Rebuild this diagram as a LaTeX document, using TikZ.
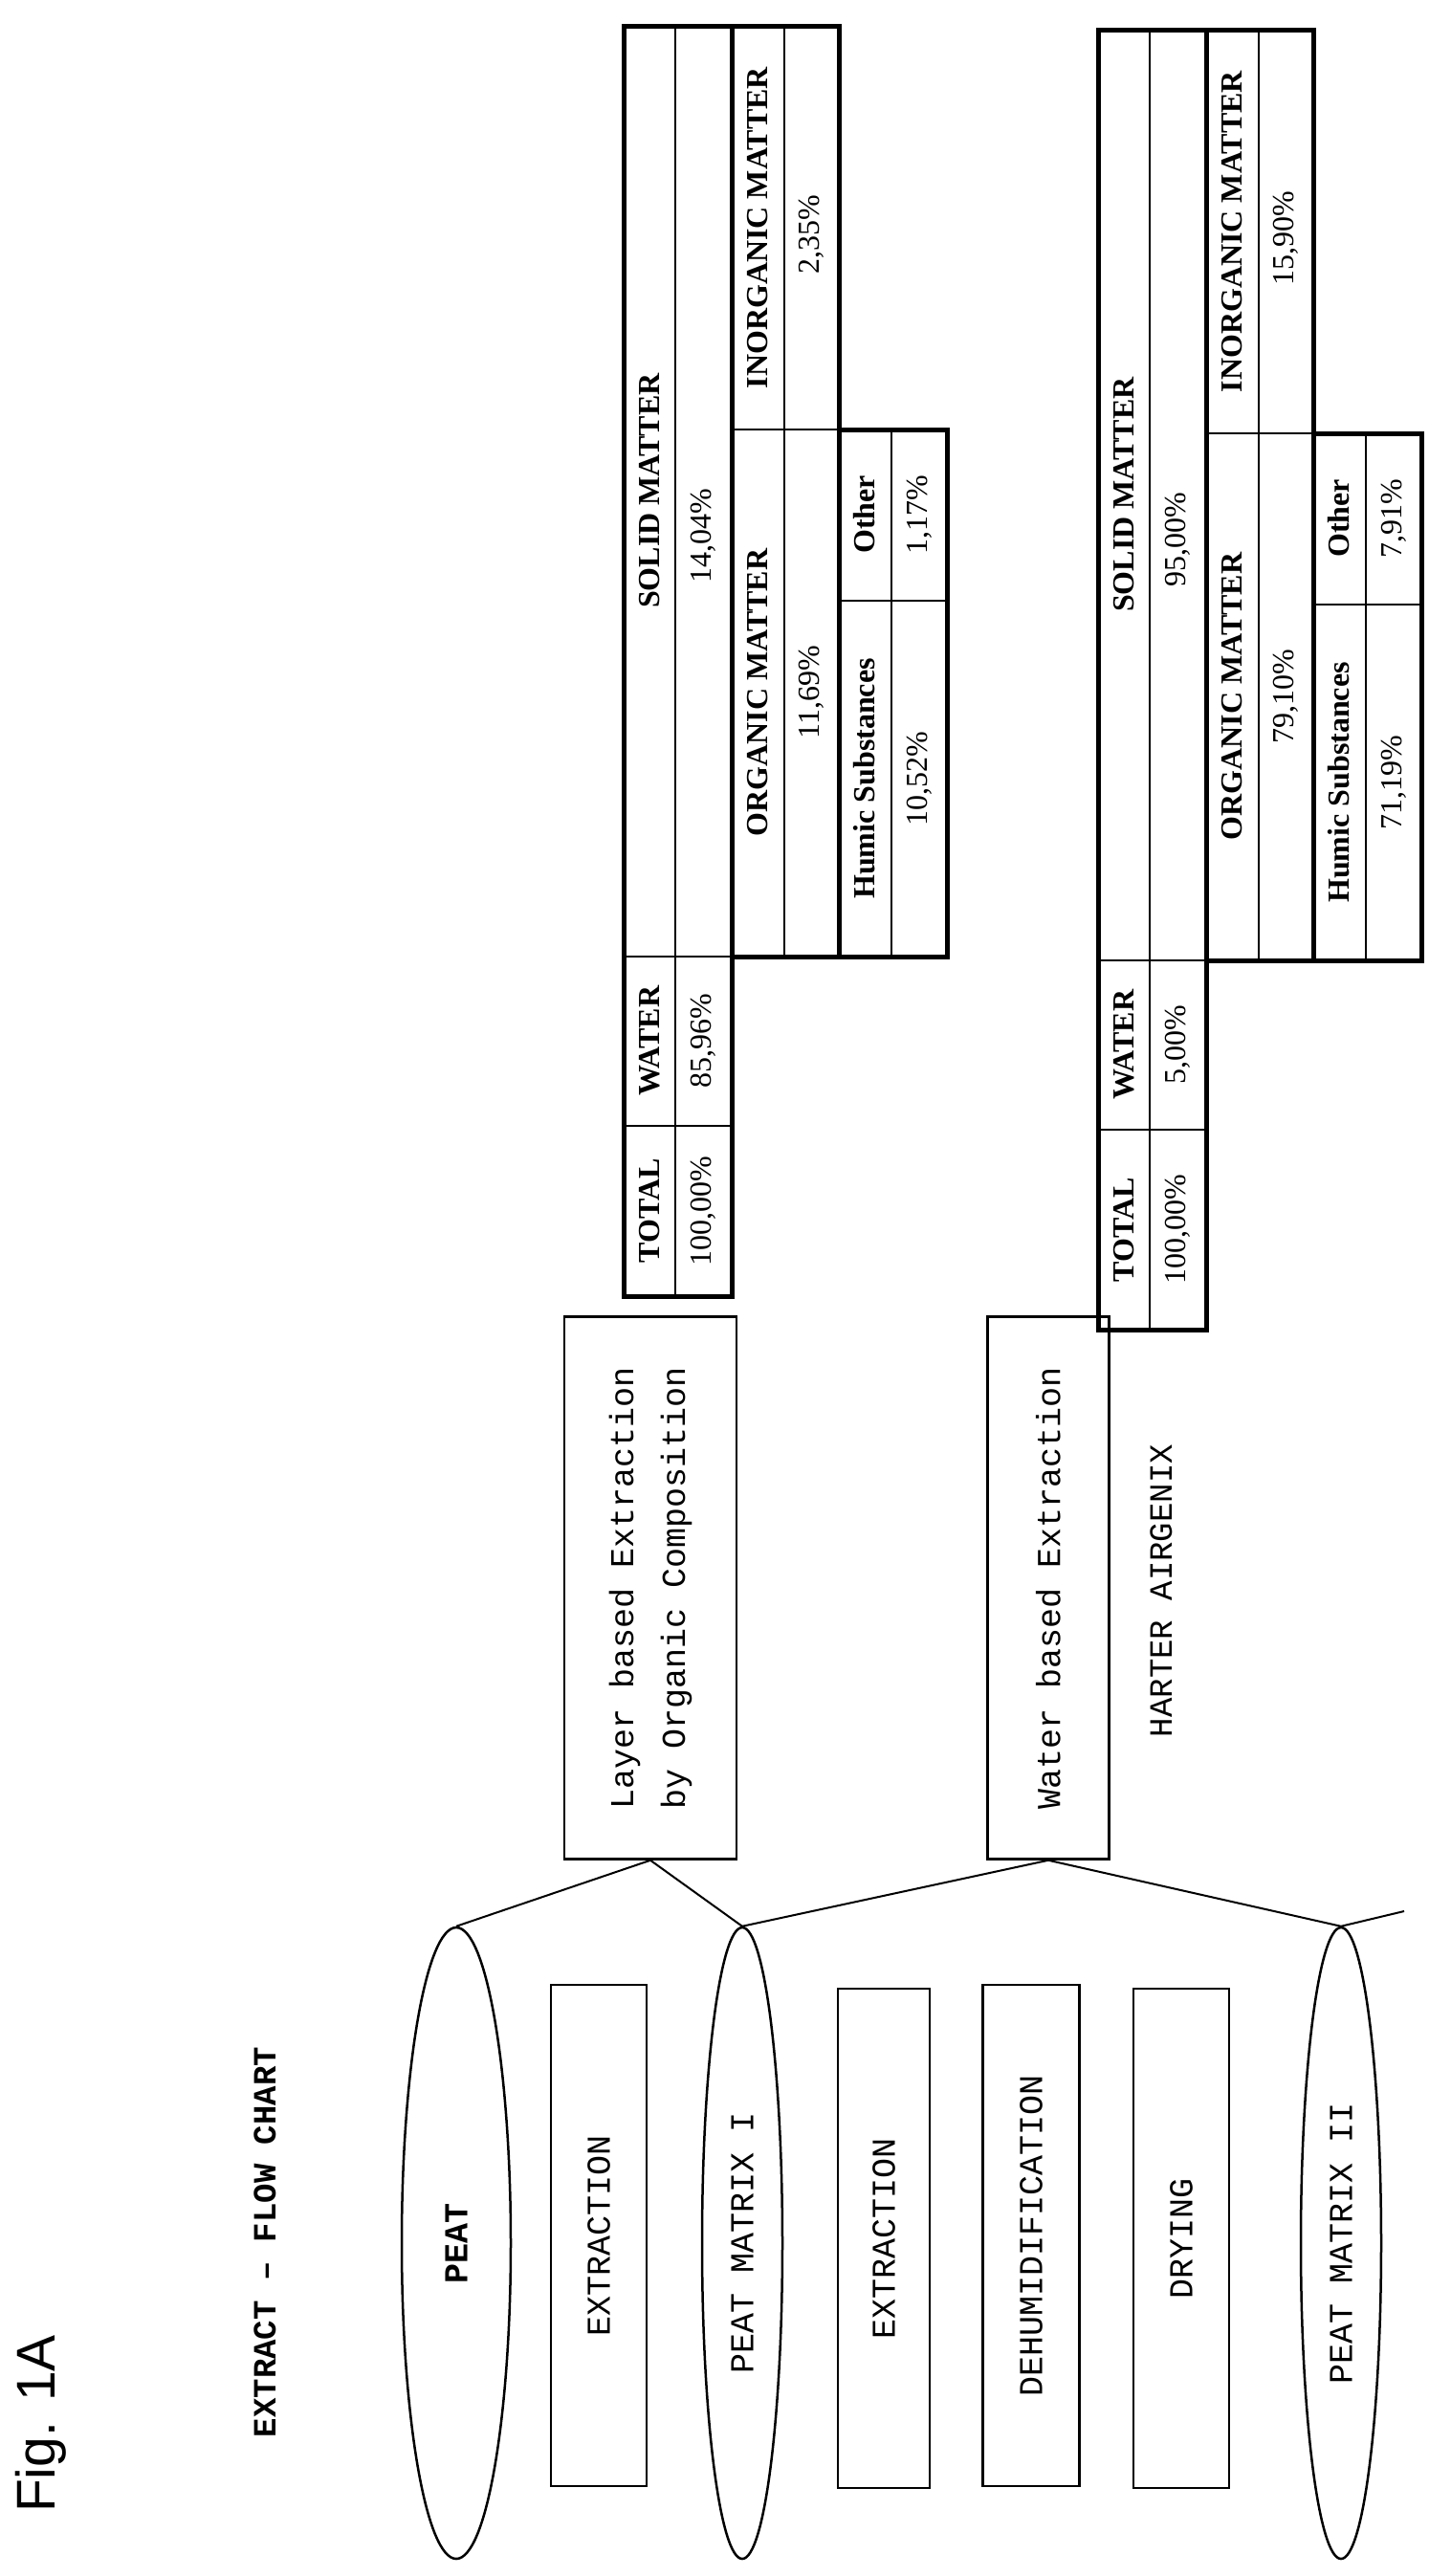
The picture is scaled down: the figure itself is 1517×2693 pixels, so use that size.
\documentclass[tikz,border=0pt]{standalone}
\usepackage{fontspec}
\setmainfont{Liberation Serif}
\setsansfont{Liberation Sans}
\setmonofont{Liberation Mono}
\usepackage{tikz}
\usetikzlibrary{shapes.geometric}

\tikzset{
  processbox/.style={draw, line width=2.5pt, rotate=90, inner sep=0pt, font=\fontsize{35}{54}\selectfont\ttfamily},
  matrixnode/.style={draw, ellipse, line width=2.5pt, rotate=90, inner sep=0pt, minimum width=660pt, font=\fontsize{35}{42}\selectfont\ttfamily},
  link/.style={line width=2pt},
  cellline/.style={line width=2pt},
  frameline/.style={line width=5pt, line join=miter},
  celltext/.style={rotate=90, inner sep=0pt, font=\fontsize{32}{38}\selectfont},
}

% one composition table: xshift, yshift, bottom, water, solid, organic, inorganic, humic, other
\newcommand{\comptable}[9]{
  \begin{scope}[shift={(#1,#2)}]
    \draw[cellline] (706,27) -- (706,#3);
    \draw[cellline] (652,1177) -- (765,1177);
    \draw[cellline] (652,1000) -- (765,1000);
    \draw[cellline] (820,27) -- (820,1000);
    \draw[cellline] (765,449) -- (877,449);
    \draw[cellline] (932,449) -- (932,1000);
    \draw[cellline] (877,628) -- (990,628);
    \draw[frameline] (765,27) -- (765,1000);
    \draw[frameline] (877,449) -- (877,1000);
    \draw[frameline] (652,27) -- (652,#3) -- (765,#3) -- (765,1000) -- (990,1000)
      -- (990,449) -- (877,449) -- (877,27) -- cycle;
    \node[celltext] at (679,{(1177+#3)/2}) {\textbf{TOTAL}};
    \node[celltext] at (735,{(1177+#3)/2}) {100,00\%};
    \node[celltext] at (679,1088) {\textbf{WATER}};
    \node[celltext] at (735,1088) {#4};
    \node[celltext] at (679,513) {\textbf{SOLID MATTER}};
    \node[celltext] at (735,560) {#5};
    \node[celltext] at (792,724) {\textbf{ORGANIC MATTER}};
    \node[celltext] at (848,724) {#6};
    \node[celltext] at (792,238) {\textbf{INORGANIC MATTER}};
    \node[celltext] at (848,245) {#7};
    \node[celltext] at (904,814) {\textbf{Humic Substances}};
    \node[celltext] at (961,814) {#8};
    \node[celltext] at (904,538) {\textbf{Other}};
    \node[celltext] at (961,538) {#9};
  \end{scope}
}

\begin{document}
\begin{tikzpicture}[x=1pt, y=-1pt]
  \useasboundingbox[fill=white] (0,0) rectangle (1517,2693);

  % titles
  \node[rotate=90, inner sep=0pt, font=\fontsize{57}{60}\selectfont\sffamily] (fig) at (43,2534) {Fig. 1A};
  \node[rotate=90, inner sep=0pt, font=\fontsize{34}{40}\selectfont\ttfamily\bfseries] (title) at (277,2344) {EXTRACT – FLOW CHART};

  % flow chart
  \node[matrixnode, minimum height=114pt, font=\fontsize{35}{42}\selectfont\ttfamily\bfseries] (peat) at (477,2345) {PEAT};
  \node[processbox, minimum width=524pt, minimum height=100pt] (extr1) at (626,2337) {EXTRACTION};
  \node[matrixnode, minimum height=84pt] (pm1) at (776,2345) {PEAT MATRIX I};
  \node[processbox, minimum width=522pt, minimum height=96pt] (extr2) at (924,2340) {EXTRACTION};
  \node[processbox, minimum width=524pt, minimum height=101pt] (dehum) at (1078,2337) {DEHUMIDIFICATION};
  \node[processbox, minimum width=522pt, minimum height=100pt] (dry) at (1235,2340) {DRYING};
  \node[matrixnode, minimum height=84pt] (pm2) at (1402,2345) {PEAT MATRIX II};

  % extraction methods
  \node[processbox, minimum width=567pt, minimum height=180pt, align=left] (layer) at (680,1660)
    {Layer based Extraction\\by Organic Composition};
  \node[processbox, minimum width=567pt, minimum height=127pt] (water) at (1096,1660) {Water based Extraction};
  \node[rotate=90, inner sep=0pt, font=\fontsize{34}{40}\selectfont\ttfamily] (harter) at (1214,1663) {HARTER AIRGENIX};

  \coordinate (stub) at (1468,1998);
  \draw[link] (layer.west) -- (peat.east);
  \draw[link] (layer.west) -- (pm1.east);
  \draw[link] (water.west) -- (pm1.east);
  \draw[link] (water.west) -- (pm2.east);
  \draw[link] (pm2.east) -- (stub);

  % composition tables
  \comptable{0}{0}{1355}{85,96\%}{14,04\%}{11,69\%}{2,35\%}{10,52\%}{1,17\%}
  \comptable{496}{4}{1386}{5,00\%}{95,00\%}{79,10\%}{15,90\%}{71,19\%}{7,91\%}
\end{tikzpicture}
\end{document}
